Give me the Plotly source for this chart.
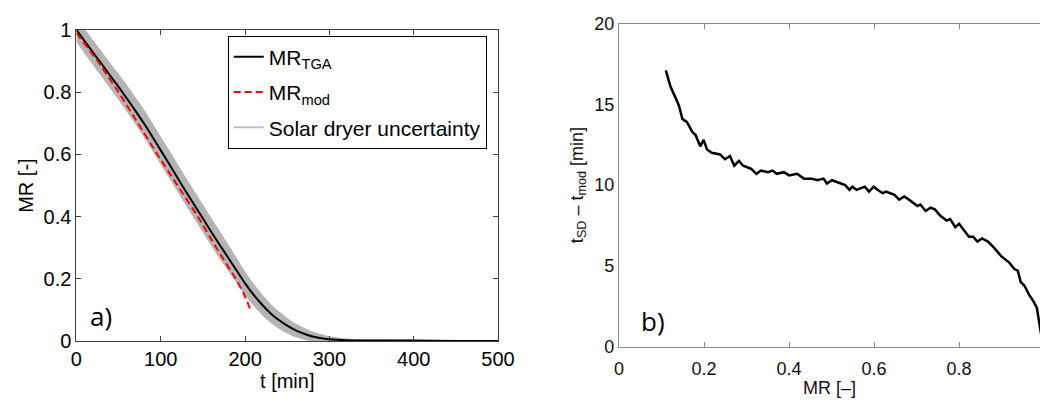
import plotly.graph_objects as go

# ---------------- Panel a) data ----------------
t_tga = [0, 10, 20, 30, 40, 50, 60, 70, 80, 90, 100, 110, 120, 130, 140, 150, 160, 170,
         180, 190, 200, 210, 220, 230, 240, 250, 260, 270, 280, 290, 300, 320, 350, 400, 450, 500]
mr_tga = [1.000, 0.963, 0.926, 0.890, 0.853, 0.817, 0.779, 0.740, 0.700, 0.657, 0.613, 0.569,
          0.524, 0.480, 0.437, 0.394, 0.351, 0.309, 0.268, 0.227, 0.186, 0.150, 0.118, 0.090,
          0.068, 0.050, 0.035, 0.024, 0.015, 0.010, 0.006, 0.003, 0.002, 0.002, 0.001, 0.001]
mr_sd_upper = [1.040, 1.003, 0.966, 0.931, 0.894, 0.859, 0.822, 0.784, 0.745, 0.702, 0.658, 0.614,
               0.569, 0.525, 0.482, 0.439, 0.396, 0.354, 0.311, 0.268, 0.224, 0.186, 0.152, 0.121,
               0.096, 0.075, 0.057, 0.043, 0.031, 0.023, 0.016, 0.009, 0.006, 0.005, 0.003, 0.003]
mr_sd_lower = [0.960, 0.923, 0.886, 0.849, 0.812, 0.775, 0.736, 0.696, 0.655, 0.612, 0.568, 0.524,
               0.479, 0.435, 0.392, 0.349, 0.306, 0.264, 0.225, 0.186, 0.148, 0.114, 0.084, 0.059,
               0.040, 0.025, 0.013, 0.005, 0.000, 0.000, 0.000, 0.000, 0.000, 0.000, 0.000, 0.000]
t_mod = [0, 25, 50, 73, 96, 120, 144, 166, 189, 198, 206]
mr_mod = [0.990, 0.900, 0.800, 0.700, 0.600, 0.500, 0.400, 0.300, 0.200, 0.155, 0.104]

# ---------------- Panel b) data ----------------
mr_b = [0.110, 0.121, 0.133, 0.141, 0.149, 0.160, 0.172, 0.180, 0.191, 0.199, 0.207, 0.218,
        0.238, 0.249, 0.261, 0.271, 0.282, 0.292, 0.311, 0.323, 0.334, 0.350, 0.361, 0.371,
        0.388, 0.400, 0.419, 0.435, 0.454, 0.466, 0.481, 0.489, 0.501, 0.520, 0.532, 0.542,
        0.549, 0.559, 0.578, 0.588, 0.599, 0.609, 0.620, 0.628, 0.648, 0.659, 0.671, 0.682,
        0.702, 0.709, 0.721, 0.733, 0.743, 0.756, 0.771, 0.779, 0.791, 0.800, 0.814, 0.823,
        0.833, 0.843, 0.854, 0.868, 0.883, 0.899, 0.918, 0.930, 0.938, 0.945, 0.953, 0.965,
        0.975, 0.983, 0.986, 0.990, 0.995]
dt_b = [17.1, 16.1, 15.4, 14.9, 14.1, 13.9, 13.3, 13.1, 12.4, 12.8, 12.2, 12.0,
        11.9, 11.6, 11.8, 11.2, 11.5, 11.2, 11.0, 10.7, 10.9, 10.8, 10.9, 10.7,
        10.8, 10.6, 10.7, 10.4, 10.4, 10.3, 10.4, 10.1, 10.3, 10.1, 10.0, 9.7,
        9.9, 9.7, 9.9, 9.6, 9.9, 9.7, 9.5, 9.6, 9.4, 9.1, 9.3, 9.1,
        8.7, 8.8, 8.4, 8.6, 8.5, 8.1, 7.8, 7.9, 7.4, 7.6, 7.1, 6.8,
        6.8, 6.5, 6.7, 6.5, 6.1, 5.6, 5.2, 4.8, 4.7, 4.0, 3.8, 3.2,
        2.8, 2.4, 1.9, 1.3, 0.4]

xticks_a = [0, 100, 200, 300, 400, 500]
yticks_a = [0, 0.2, 0.4, 0.6, 0.8, 1]
yticklabels_a = ["0", "0.2", "0.4", "0.6", "0.8", "1"]
xticks_b = [0, 0.2, 0.4, 0.6, 0.8]
xticklabels_b = ["0", "0.2", "0.4", "0.6", "0.8"]
yticks_b = [0, 5, 10, 15, 20]

FONT = "Liberation Sans"
W, H = 1057, 403

fig = go.Figure()

# uncertainty band
fig.add_trace(go.Scatter(x=t_tga, y=mr_sd_lower, mode="lines",
                         line=dict(width=0, color="#b4b4b4", shape="spline", smoothing=0.8),
                         showlegend=False, hoverinfo="skip", legendgroup="g0", xaxis="x", yaxis="y"))
fig.add_trace(go.Scatter(x=t_tga, y=mr_sd_upper, mode="lines",
                         line=dict(width=0, color="#b4b4b4", shape="spline", smoothing=0.8),
                         fill="tonexty", fillcolor="#b4b4b4", showlegend=False, hoverinfo="skip",
                         legendgroup="g0", xaxis="x", yaxis="y"))
fig.add_trace(go.Scatter(x=t_tga, y=mr_tga, mode="lines",
                         line=dict(color="black", width=2, shape="spline", smoothing=0.8),
                         name="MR<sub>TGA</sub>", legendgroup="g1", xaxis="x", yaxis="y"))
fig.add_trace(go.Scatter(x=t_mod, y=mr_mod, mode="lines",
                         line=dict(color="#ff0000", width=2, dash="7px,4px", shape="spline", smoothing=0.6),
                         name="MR<sub>mod</sub>", legendgroup="g2", xaxis="x", yaxis="y"))
fig.add_trace(go.Scatter(x=[None], y=[None], mode="lines", line=dict(color="#c0c0c0", width=2),
                         name="Solar dryer uncertainty", legendgroup="g3", xaxis="x", yaxis="y"))

fig.add_trace(go.Scatter(x=mr_b, y=dt_b, mode="lines", line=dict(color="black", width=2.5),
                         showlegend=False, xaxis="x2", yaxis="y2"))

ax_a = dict(showgrid=False, zeroline=False, showline=True, linecolor="#404040", linewidth=1,
            mirror="ticks", ticks="inside", ticklen=5, tickcolor="#404040",
            tickfont=dict(family=FONT, size=20, color="black"))
fig.update_layout(
    width=W, height=H, margin=dict(l=0, r=0, t=0, b=0),
    plot_bgcolor="white", paper_bgcolor="white",
    xaxis=dict(domain=[72 / W, 503 / W], range=[0, 500], tickvals=xticks_a,
               title=dict(text="t [min]", font=dict(family=FONT, size=20, color="black"), standoff=0),
               anchor="y", **ax_a),
    yaxis=dict(domain=[(H - 349.3) / H, (H - 20) / H], range=[0, 1], tickvals=yticks_a,
               ticktext=yticklabels_a,
               title=dict(text="MR [-]", font=dict(family=FONT, size=20, color="black"), standoff=4),
               anchor="x", **ax_a),
    xaxis2=dict(domain=[626.7 / W, 1.0], range=[0, (W - 626.7) / 434.5], tickvals=xticks_b,
                ticktext=xticklabels_b, showgrid=False, zeroline=False, showline=True,
                linecolor="#8a8a8a", linewidth=1.2, mirror="ticks", ticks="inside", ticklen=5,
                tickcolor="#8a8a8a", tickfont=dict(family=FONT, size=18, color="#111"),
                ticklabelstandoff=6,
                title=dict(text="MR [–]", font=dict(family=FONT, size=18, color="#111"), standoff=3),
                anchor="y2"),
    yaxis2=dict(domain=[(H - 355) / H, (H - 13.3) / H], range=[0, 20], tickvals=yticks_b,
                showgrid=False, zeroline=False, showline=True, linecolor="#8a8a8a", linewidth=1.2,
                ticks="", tickfont=dict(family=FONT, size=18, color="#111"),
                title=dict(text="t<sub>SD</sub> – t<sub>mod</sub> [min]",
                           font=dict(family=FONT, size=18, color="#111"), standoff=6),
                anchor="x2"),
    legend=dict(x=226.7 / W, y=(H - 26) / H, xanchor="left", yanchor="top",
                bgcolor="white", bordercolor="black", borderwidth=1, traceorder="grouped",
                font=dict(family=FONT, size=21, color="black"), tracegroupgap=5),
    annotations=[
        dict(text="a)", x=29, y=0.08, xref="x", yref="y", showarrow=False,
             font=dict(family="Open Sans", size=26, color="black")),
        dict(text="b)", x=0.079, y=1.58, xref="x2", yref="y2", showarrow=False,
             font=dict(family="Open Sans", size=26, color="black")),
    ],
)

fig.write_html("out.html")
